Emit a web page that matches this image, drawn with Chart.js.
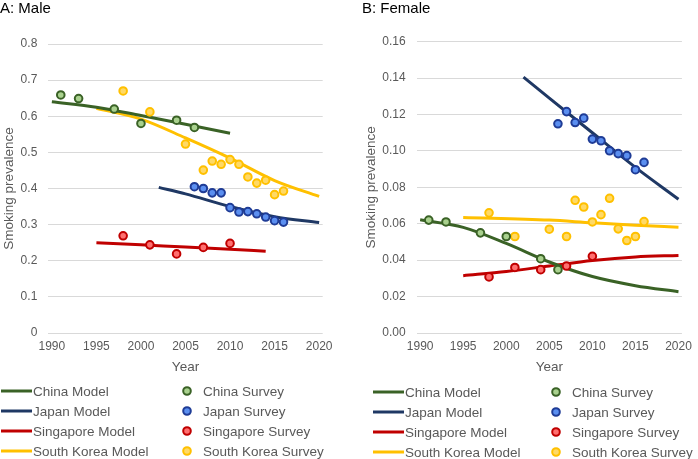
<!DOCTYPE html>
<html>
<head>
<meta charset="utf-8">
<script src="https://cdn.jsdelivr.net/npm/chart.js@4.4.1/dist/chart.umd.min.js"></script>
<style>
  body { margin: 0; background: #fff; width: 698px; height: 459px; position: relative; overflow: hidden; }
  canvas { position: absolute; top: 0; }
  #male { left: 0; }
  #female { left: 362px; }
</style>
</head>
<body>
<canvas id="male" width="349" height="459"></canvas>
<canvas id="female" width="336" height="459"></canvas>
<script>
// Datos
const countries = ['China', 'Japan', 'Singapore', 'South Korea'];
const modelColors = ['#3a6226', '#1f3864', '#c00000', '#ffc000'];
const surveyFill = ['#a9d18e', '#5b8ff0', '#ff6f6f', '#ffd966'];
const surveyBorder = ['#3a6226', '#1f3c96', '#c00000', '#ffc000'];

const xTicks = [1990, 1995, 2000, 2005, 2010, 2015, 2020];
const maleYTicks = [0, 0.1, 0.2, 0.3, 0.4, 0.5, 0.6, 0.7, 0.8];
const femaleYTicks = [0, 0.02, 0.04, 0.06, 0.08, 0.10, 0.12, 0.14, 0.16];

// Hombres - modelo
const maleChinaModelYears = [1990, 1995, 2000, 2005, 2010];
const maleChinaModel = [0.640, 0.625, 0.602, 0.578, 0.553];
const maleJapanModelYears = [2002, 2005, 2010, 2015, 2020];
const maleJapanModel = [0.403, 0.385, 0.350, 0.322, 0.306];
const maleSingaporeModelYears = [1995, 2000, 2005, 2010, 2014];
const maleSingaporeModel = [0.250, 0.244, 0.238, 0.232, 0.226];
const maleKoreaModelYears = [1995, 2000, 2005, 2010, 2015, 2020];
const maleKoreaModel = [0.622, 0.592, 0.540, 0.484, 0.422, 0.378];

// Hombres - encuestas
const maleChinaSurveyYears = [1991, 1993, 1997, 2000, 2004, 2006];
const maleChinaSurvey = [0.659, 0.649, 0.620, 0.580, 0.589, 0.569];
const maleJapanSurveyYears = [2006, 2007, 2008, 2009, 2010, 2011, 2012, 2013, 2014, 2015, 2016];
const maleJapanSurvey = [0.405, 0.400, 0.388, 0.388, 0.347, 0.335, 0.336, 0.330, 0.321, 0.311, 0.307];
const maleSingaporeSurveyYears = [1998, 2001, 2004, 2007, 2010];
const maleSingaporeSurvey = [0.269, 0.244, 0.219, 0.237, 0.248];
const maleKoreaSurveyYears = [1998, 2001, 2005, 2007, 2008, 2009, 2010, 2011, 2012, 2013, 2014, 2015, 2016];
const maleKoreaSurvey = [0.670, 0.612, 0.523, 0.451, 0.476, 0.467, 0.480, 0.467, 0.432, 0.415, 0.423, 0.383, 0.393];

// Mujeres - modelo
const femaleChinaModelYears = [1990, 1995, 2000, 2005, 2010, 2015, 2020];
const femaleChinaModel = [0.0622, 0.0580, 0.0492, 0.0390, 0.0310, 0.0260, 0.0227];
const femaleJapanModelYears = [2002, 2005, 2010, 2015, 2020];
const femaleJapanModel = [0.1405, 0.1290, 0.1100, 0.0910, 0.0735];
const femaleSingaporeModelYears = [1995, 2000, 2005, 2010, 2015, 2020];
const femaleSingaporeModel = [0.0315, 0.0338, 0.0368, 0.0398, 0.0418, 0.0426];
const femaleKoreaModelYears = [1995, 2005, 2010, 2015, 2020];
const femaleKoreaModel = [0.0635, 0.0620, 0.0605, 0.0592, 0.0581];

// Mujeres - encuestas
const femaleChinaSurveyYears = [1991, 1993, 1997, 2000, 2004, 2006];
const femaleChinaSurvey = [0.0620, 0.0610, 0.0550, 0.0530, 0.0408, 0.0348];
const femaleJapanSurveyYears = [2006, 2007, 2008, 2009, 2010, 2011, 2012, 2013, 2014, 2015, 2016];
const femaleJapanSurvey = [0.1149, 0.1216, 0.1156, 0.1180, 0.1065, 0.1056, 0.1001, 0.0985, 0.0974, 0.0897, 0.0937];
const femaleSingaporeSurveyYears = [1998, 2001, 2004, 2007, 2010];
const femaleSingaporeSurvey = [0.0308, 0.0360, 0.0348, 0.0368, 0.0421];
const femaleKoreaSurveyYears = [1998, 2001, 2005, 2007, 2008, 2009, 2010, 2011, 2012, 2013, 2014, 2015, 2016];
const femaleKoreaSurvey = [0.0660, 0.0530, 0.0570, 0.0530, 0.0729, 0.0692, 0.0610, 0.0650, 0.0740, 0.0572, 0.0508, 0.0530, 0.0612];

const FONT = "'Liberation Sans', Arial, sans-serif";
Chart.defaults.font.family = FONT;
Chart.defaults.color = '#595959';

function pts(xs, ys) {
    return xs.map((x, i) => ({ x: x, y: ys[i] }));
}

function buildDatasets(models, surveys) {
    const ds = [];
    models.forEach((m, i) => {
        ds.push({
            label: countries[i] + ' Model',
            kind: 'model',
            data: pts(m[0], m[1]),
            showLine: true,
            borderColor: modelColors[i],
            backgroundColor: modelColors[i],
            borderWidth: 3,
            pointRadius: 0,
            cubicInterpolationMode: 'monotone',
            order: 1
        });
    });
    surveys.forEach((s, i) => {
        ds.push({
            label: countries[i] + ' Survey',
            kind: 'survey',
            data: pts(s[0], s[1]),
            showLine: false,
            pointRadius: 3.8,
            pointBorderWidth: 2,
            pointBackgroundColor: surveyFill[i],
            pointBorderColor: surveyBorder[i],
            backgroundColor: surveyFill[i],
            borderColor: surveyBorder[i],
            order: 0
        });
    });
    return ds;
}

// Leyenda en dos columnas
const leyendaPlugin = {
    id: 'leyenda',
    afterDraw(chart, args, opts) {
        const ctx = chart.ctx;
        const dsets = chart.data.datasets;
        const modelos = dsets.filter(d => d.kind === 'model');
        const encuestas = dsets.filter(d => d.kind === 'survey');
        ctx.save();
        ctx.font = '13.5px ' + FONT;
        ctx.textBaseline = 'middle';
        ctx.textAlign = 'left';
        modelos.forEach((d, i) => {
            const y = opts.top + i * 20;
            ctx.strokeStyle = d.borderColor;
            ctx.lineWidth = 3;
            ctx.beginPath();
            ctx.moveTo(opts.lineX, y);
            ctx.lineTo(opts.lineX + 31, y);
            ctx.stroke();
            ctx.fillStyle = '#595959';
            ctx.fillText(d.label, opts.lineX + 32, y + 1);
        });
        encuestas.forEach((d, i) => {
            const y = opts.top + i * 20;
            ctx.beginPath();
            ctx.arc(opts.dotX, y, 3.8, 0, Math.PI * 2);
            ctx.fillStyle = d.pointBackgroundColor;
            ctx.fill();
            ctx.lineWidth = 2;
            ctx.strokeStyle = d.pointBorderColor;
            ctx.stroke();
            ctx.fillStyle = '#595959';
            ctx.fillText(d.label, opts.dotX + 16, y + 1);
        });
        ctx.restore();
    }
};

function crearGrafico(id, titulo, datasets, yMax, yTicks, yDecimals, yWidth, padRight, titlePad, leyenda) {
    return new Chart(document.getElementById(id), {
        type: 'scatter',
        data: { datasets: datasets },
        plugins: [leyendaPlugin],
        options: {
            responsive: false,
            animation: false,
            layout: { padding: { left: 0, right: padRight, top: 0, bottom: 84 } },
            plugins: {
                legend: { display: false },
                tooltip: { enabled: false },
                title: {
                    display: true,
                    text: titulo,
                    align: 'start',
                    color: '#000',
                    font: { size: 15, weight: 'normal', lineHeight: 1 },
                    padding: { top: 1, bottom: titlePad - 1 }
                },
                leyenda: leyenda
            },
            scales: {
                x: {
                    type: 'linear',
                    min: 1989.6,
                    max: 2020.4,
                    afterBuildTicks: (scale) => { scale.ticks = xTicks.map(v => ({ value: v })); },
                    afterFit: (scale) => { scale.height = 42; },
                    grid: { display: false, drawTicks: false },
                    border: { display: false },
                    ticks: {
                        padding: 6,
                        font: { size: 12 },
                        color: '#595959',
                        maxRotation: 0,
                        callback: (v) => String(v)
                    },
                    title: {
                        display: true,
                        text: 'Year',
                        color: '#595959',
                        font: { size: 13.5 },
                        padding: 0
                    }
                },
                y: {
                    min: 0,
                    max: yMax,
                    afterBuildTicks: (scale) => { scale.ticks = yTicks.map(v => ({ value: v })); },
                    afterFit: (scale) => { scale.width = yWidth; },
                    grid: { color: '#d9d9d9', lineWidth: 1, drawTicks: false },
                    border: { display: false },
                    ticks: {
                        padding: 11,
                        font: { size: 12 },
                        color: '#595959',
                        callback: (v) => yDecimals === 0 ? String(Math.round(v * 10) / 10) : Number(v).toFixed(yDecimals)
                    },
                    title: {
                        display: true,
                        text: 'Smoking prevalence',
                        color: '#595959',
                        font: { size: 13.5 },
                        padding: { top: 1, bottom: 0 }
                    }
                }
            }
        }
    });
}

const maleDatasets = buildDatasets(
    [[maleChinaModelYears, maleChinaModel], [maleJapanModelYears, maleJapanModel],
     [maleSingaporeModelYears, maleSingaporeModel], [maleKoreaModelYears, maleKoreaModel]],
    [[maleChinaSurveyYears, maleChinaSurvey], [maleJapanSurveyYears, maleJapanSurvey],
     [maleSingaporeSurveyYears, maleSingaporeSurvey], [maleKoreaSurveyYears, maleKoreaSurvey]]
);
const femaleDatasets = buildDatasets(
    [[femaleChinaModelYears, femaleChinaModel], [femaleJapanModelYears, femaleJapanModel],
     [femaleSingaporeModelYears, femaleSingaporeModel], [femaleKoreaModelYears, femaleKoreaModel]],
    [[femaleChinaSurveyYears, femaleChinaSurvey], [femaleJapanSurveyYears, femaleJapanSurvey],
     [femaleSingaporeSurveyYears, femaleSingaporeSurvey], [femaleKoreaSurveyYears, femaleKoreaSurvey]]
);

crearGrafico('male', 'A: Male', maleDatasets, 0.8, maleYTicks, 0, 48.3, 26.3, 29,
    { top: 391, lineX: 1, dotX: 187 });
crearGrafico('female', 'B: Female', femaleDatasets, 0.16, femaleYTicks, 2, 54.7, 13, 26.7,
    { top: 392, lineX: 11, dotX: 194 });
</script>
</body>
</html>
